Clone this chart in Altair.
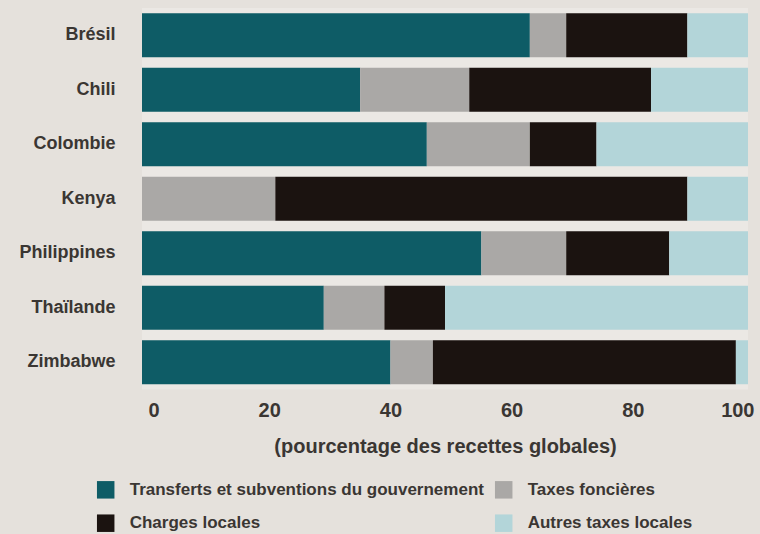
import altair as alt
import pandas as pd

# Revenue shares of local governments, by source (percent of total revenue)
countries = ["Brésil", "Chili", "Colombie", "Kenya", "Philippines", "Thaïlande", "Zimbabwe"]
sources = [
    "Transferts et subventions du gouvernement",
    "Taxes foncières",
    "Charges locales",
    "Autres taxes locales",
]
transferts = [64, 36, 47, 0, 56, 30, 41]
foncieres = [6, 18, 17, 22, 14, 10, 7]
charges = [20, 30, 11, 68, 17, 10, 50]
autres = [10, 16, 25, 10, 13, 50, 2]
colors = ["#0e5c66", "#aaa8a6", "#1b1310", "#b3d5d9"]
x_ticks = [0, 20, 40, 60, 80, 100]

rows = []
for series_idx, values in enumerate([transferts, foncieres, charges, autres]):
    for country, v in zip(countries, values):
        rows.append({"pays": country, "source": sources[series_idx],
                     "rang": series_idx, "part": v})
df = pd.DataFrame(rows)

FONT = "Liberation Sans"
TEXT = "#3a3633"

chart = (
    alt.Chart(df)
    .mark_bar()
    .encode(
        x=alt.X(
            "part:Q",
            stack="zero",
            scale=alt.Scale(domain=[0, 100], nice=False),
            axis=alt.Axis(
                values=x_ticks,
                title="(pourcentage des recettes globales)",
                grid=False,
                domain=False,
                ticks=False,
                labelFlush=True,
                labelOffset=6,
                labelPadding=11,
                labelFontSize=20,
                labelFont=FONT,
                labelFontWeight="bold",
                labelColor=TEXT,
                titleFont=FONT,
                titleFontSize=20,
                titleFontWeight="bold",
                titleColor=TEXT,
                titlePadding=16,
            ),
        ),
        y=alt.Y(
            "pays:N",
            sort=countries,
            scale=alt.Scale(paddingInner=0.193, paddingOuter=0.0965),
            axis=alt.Axis(
                title=None,
                domain=False,
                ticks=False,
                labelPadding=27,
                labelFontSize=18,
                labelFont=FONT,
                labelFontWeight="bold",
                labelColor=TEXT,
            ),
        ),
        color=alt.Color(
            "source:N",
            scale=alt.Scale(domain=sources, range=colors),
            legend=alt.Legend(
                title=None,
                orient="none",
                direction="horizontal",
                legendX=-45.3,
                legendY=472.7,
                columns=2,
                columnPadding=10,
                rowPadding=15.5,
                symbolType="square",
                symbolSize=306,
                symbolStrokeWidth=0,
                symbolOpacity=1,
                labelOffset=15,
                labelLimit=0,
                labelFontSize=17,
                labelFont=FONT,
                labelFontWeight="bold",
                labelColor=TEXT,
                padding=0,
            ),
        ),
        order=alt.Order("rang:Q"),
    )
    .properties(
        width=606,
        height=381.5,
        padding={"left": 142, "top": 8, "right": 12, "bottom": 144.5},
        autosize=alt.AutoSizeParams(type="none"),
        background="#e5e1dc",
    )
    .configure_view(fill="#ebe8e4", stroke=None)
)

chart.save("out.html", embed_options={"renderer": "svg", "actions": False})
